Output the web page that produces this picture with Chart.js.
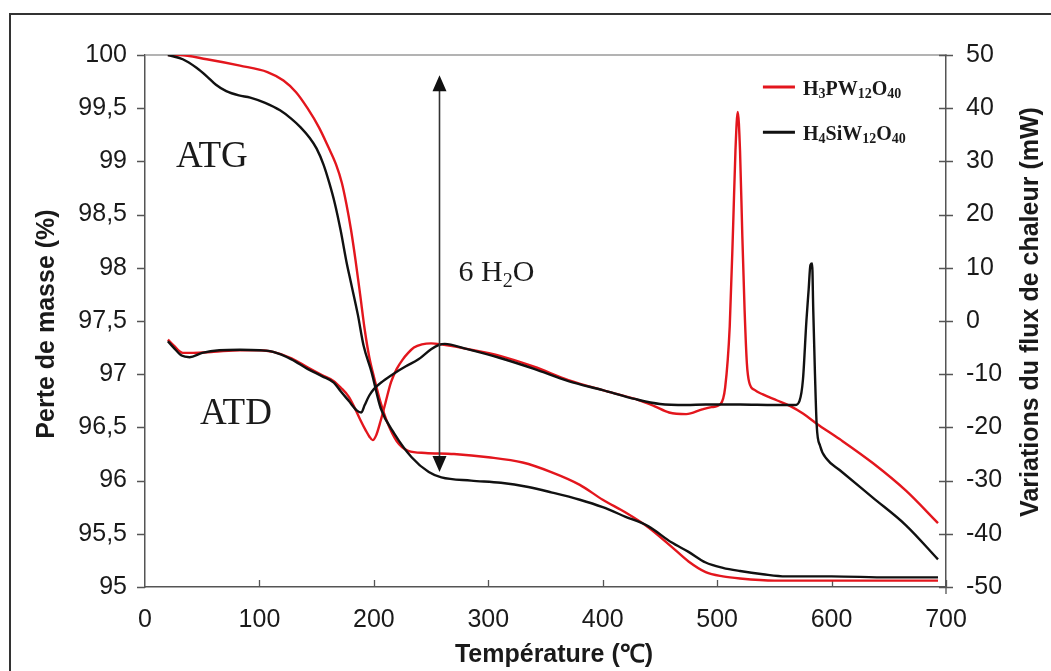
<!DOCTYPE html>
<html>
<head>
<meta charset="utf-8">
<script src="https://cdn.jsdelivr.net/npm/chart.js@4.4.1/dist/chart.umd.min.js"></script>
<style>
  html, body { margin: 0; padding: 0; background: #fff; }
  #wrap { width: 1051px; height: 671px; position: relative; }
</style>
</head>
<body>
<div id="wrap"><canvas id="tg"></canvas></div>
<script>
/* ── ATG / ATD of two heteropolyacids ── */

// ── Data ────────────────────────────────────────────────────────────────────
const tempTgPW = [20, 30, 54, 83, 107, 121, 132, 142, 152, 160, 167, 172, 176, 180, 184, 188, 192, 196, 199, 202,
  206, 212, 220, 230, 245, 270, 300, 330, 355, 380, 400, 420, 440, 460, 475, 490, 505, 520, 550, 600, 650, 693];
const tgPW = [100, 100, 99.96, 99.9, 99.84, 99.76, 99.65, 99.5, 99.32, 99.14, 98.97, 98.8, 98.6, 98.36, 98.07, 97.75, 97.42, 97.16, 97.02, 96.89,
  96.73, 96.54, 96.37, 96.28, 96.26, 96.25, 96.22, 96.17, 96.08, 95.96, 95.82, 95.7, 95.56, 95.38, 95.24, 95.14, 95.1, 95.08, 95.06, 95.06, 95.06, 95.06];

const tempTgSiW = [20, 33, 45, 54, 62, 71, 82, 92, 105, 118, 128, 136, 144, 150, 156, 161, 166, 171, 176, 180,
  186, 191, 198, 206, 218, 233, 248, 259, 285, 311, 335, 355, 380, 400, 420, 440, 460, 475, 490, 505, 520, 540, 560, 600, 650, 693];
const tgSiW = [100, 99.96, 99.88, 99.8, 99.72, 99.66, 99.62, 99.6, 99.55, 99.48, 99.4, 99.32, 99.22, 99.12, 98.97, 98.8, 98.6, 98.35, 98.06, 97.86,
  97.56, 97.27, 97.02, 96.68, 96.44, 96.22, 96.08, 96.03, 96.0, 95.98, 95.94, 95.89, 95.82, 95.75, 95.66, 95.57, 95.42, 95.33, 95.23, 95.18, 95.15, 95.12, 95.1, 95.1, 95.09, 95.09];

const tempDtaPW = [20, 25, 33, 42, 60, 83, 100, 112, 128, 142, 155, 165, 171, 178, 183, 188, 193, 196, 199, 202,
  206, 210, 215, 220, 225, 230, 235, 242, 250, 259, 280, 311, 340, 370, 400, 429, 445, 458, 473, 487,
  495, 503, 507, 511, 514, 516, 518, 520, 522, 524, 526, 528, 533, 540, 552, 564, 575, 587, 607, 636, 665, 693];
const dtaPW = [-3.5, -4.6, -6.0, -6.0, -5.8, -5.5, -5.5, -5.8, -7.0, -8.7, -10.2, -11.3, -12.5, -14.2, -16.2, -18.5, -20.6, -21.7, -22.4, -21.5,
  -18.7, -15.5, -11.5, -9.0, -7.3, -6.0, -5.0, -4.4, -4.2, -4.4, -5.2, -6.6, -8.6, -11.1, -13.0, -14.7, -16.0, -17.2, -17.5, -16.6,
  -16.2, -15.6, -12.5, -1, 18, 32, 39.3, 32, 16, 2, -8, -11.5, -13, -13.8, -14.9, -16.0, -17.4, -19.3, -22.2, -26.7, -31.9, -38.0];

const tempDtaSiW = [20, 25, 32, 39, 50, 65, 83, 100, 112, 128, 142, 155, 165, 171, 178, 185, 189, 192, 196, 200,
  208, 218, 228, 239, 250, 257, 262, 280, 311, 340, 370, 400, 429, 450, 473, 490, 520, 550, 568, 572,
  575, 578, 580, 581.5, 583, 584, 585.5, 587, 590, 596, 607, 636, 665, 693];
const dtaSiW = [-3.8, -5.0, -6.5, -6.8, -6.0, -5.5, -5.4, -5.5, -5.8, -7.2, -9.0, -10.4, -11.6, -13.2, -15.0, -16.8, -17.2, -15.8, -14.0, -12.8,
  -11.3, -9.8, -8.5, -7.2, -5.3, -4.5, -4.3, -5.2, -7.0, -9.0, -11.3, -13.0, -14.7, -15.6, -15.8, -15.7, -15.7, -15.8, -15.8, -15.0,
  -11.0, 0, 6, 10.5, 10.8, 2, -10, -19.6, -23.5, -26, -28, -33.2, -38.4, -44.8];

// axis ranges / ticks
const tempRange = [0, 700, 100];
const massRange = [95, 100, 0.5];
const fluxRange = [-50, 50, 10];

// axis titles
const titleX = "Température (℃)";
const titleY = "Perte de masse (%)";
const titleY2 = "Variations du flux de chaleur (mW)";

// text annotations, in data units (temperature, mass %)
const arrowTemp = 257, arrowTop = 99.81, arrowBottom = 96.08;
const notes = [
  { text: "ATG", t: 27, m: 98.95 },
  { text: "ATD", t: 48, m: 96.53 },
];
const waterNote = { t: 274, m: 97.88 };
// legend: [base, sub, base, sub, base, sub], anchored in (temperature, mW)
const legendItems = [
  { color: "#e3161d", parts: ["H", "3", "PW", "12", "O", "40"], flux: 44 },
  { color: "#111111", parts: ["H", "4", "SiW", "12", "O", "40"], flux: 35.5 },
];
const legendLine = [540, 568], legendText = 575;

const RED = "#e3161d";
const BLACK = "#111111";
const SANS = "'Liberation Sans', Arial, sans-serif";
const SERIF = "'Liberation Serif', 'Times New Roman', serif";

// ── Utility ─────────────────────────────────────────────────────────────────
function pts(xs, ys) {
  return xs.map((x, i) => ({ x, y: ys[i] }));
}

function comma(v) {
  return String(Math.round(v * 10) / 10).replace(".", ",");
}

function rotatedText(ctx, text, cx, cy) {
  ctx.save();
  ctx.translate(cx, cy);
  ctx.rotate(-Math.PI / 2);
  ctx.fillText(text, 0, 0);
  ctx.restore();
}

// ── Decorations: frame, top line, ticks, titles, notes, arrow, legend ──────
const decor = {
  id: "decor",
  beforeDatasetsDraw(chart) {
    const { ctx, chartArea: a, scales: { x, y, y2 } } = chart;
    ctx.save();
    // outer frame
    ctx.strokeStyle = "#333";
    ctx.lineWidth = 2;
    ctx.beginPath();
    ctx.moveTo(10, chart.height);
    ctx.lineTo(10, 14);
    ctx.lineTo(chart.width, 14);
    ctx.stroke();
    // top line of plot
    ctx.strokeStyle = "#9a9a9a";
    ctx.lineWidth = 1.5;
    ctx.beginPath();
    ctx.moveTo(a.left, a.top);
    ctx.lineTo(a.right, a.top);
    ctx.stroke();
    // ticks
    ctx.strokeStyle = "#555";
    ctx.lineWidth = 1.3;
    ctx.beginPath();
    for (let v = massRange[0]; v <= massRange[1] + 1e-9; v += massRange[2]) {
      const py = Math.round(y.getPixelForValue(v)) + 0.5;
      ctx.moveTo(a.left - 8, py);
      ctx.lineTo(a.left, py);
    }
    for (let v = fluxRange[0]; v <= fluxRange[1]; v += fluxRange[2]) {
      const py = Math.round(y2.getPixelForValue(v)) + 0.5;
      ctx.moveTo(a.right - 7, py);
      ctx.lineTo(a.right + 7, py);
    }
    for (let v = tempRange[0] + tempRange[2]; v <= tempRange[1]; v += tempRange[2]) {
      const px = Math.round(x.getPixelForValue(v)) + 0.5;
      ctx.moveTo(px, a.bottom);
      ctx.lineTo(px, a.bottom - 7);
    }
    ctx.moveTo(a.right, a.bottom);
    ctx.lineTo(a.right, a.bottom + 7);
    ctx.stroke();

    // axis titles
    ctx.fillStyle = "#1a1a1a";
    ctx.font = `bold 25px ${SANS}`;
    ctx.textAlign = "center";
    ctx.textBaseline = "middle";
    ctx.fillText(titleX, 554, 655);
    rotatedText(ctx, titleY, 47, 324);
    rotatedText(ctx, titleY2, 1031, 312);
    ctx.restore();
  },
  afterDatasetsDraw(chart) {
    const { ctx, scales: { x, y, y2 } } = chart;
    ctx.save();
    ctx.fillStyle = "#1a1a1a";
    ctx.textBaseline = "alphabetic";

    // ATG / ATD labels
    ctx.font = `37px ${SERIF}`;
    notes.forEach((n) => ctx.fillText(n.text, x.getPixelForValue(n.t), y.getPixelForValue(n.m)));

    // 6 H2O
    let wx = x.getPixelForValue(waterNote.t);
    const wy = y.getPixelForValue(waterNote.m);
    ctx.font = `30px ${SERIF}`;
    ctx.fillText("6 H", wx, wy);
    wx += ctx.measureText("6 H").width;
    ctx.font = `20px ${SERIF}`;
    ctx.fillText("2", wx, wy + 6);
    wx += ctx.measureText("2").width;
    ctx.font = `30px ${SERIF}`;
    ctx.fillText("O", wx, wy);

    // double arrow
    const ax = Math.round(x.getPixelForValue(arrowTemp)) + 0.5;
    const top = y.getPixelForValue(arrowTop);
    const bot = y.getPixelForValue(arrowBottom);
    ctx.strokeStyle = "#333";
    ctx.lineWidth = 1.6;
    ctx.beginPath();
    ctx.moveTo(ax, top + 10);
    ctx.lineTo(ax, bot - 10);
    ctx.stroke();
    ctx.fillStyle = "#111";
    ctx.beginPath();
    ctx.moveTo(ax, top);
    ctx.lineTo(ax - 7, top + 16);
    ctx.lineTo(ax + 7, top + 16);
    ctx.closePath();
    ctx.moveTo(ax, bot);
    ctx.lineTo(ax - 7, bot - 16);
    ctx.lineTo(ax + 7, bot - 16);
    ctx.closePath();
    ctx.fill();

    // legend
    legendItems.forEach((it) => {
      const ly = y2.getPixelForValue(it.flux);
      ctx.strokeStyle = it.color;
      ctx.lineWidth = 3;
      ctx.beginPath();
      ctx.moveTo(x.getPixelForValue(legendLine[0]), ly);
      ctx.lineTo(x.getPixelForValue(legendLine[1]), ly);
      ctx.stroke();
      let tx = x.getPixelForValue(legendText);
      ctx.fillStyle = "#1a1a1a";
      it.parts.forEach((p, i) => {
        const sub = i % 2 === 1;
        ctx.font = sub ? `bold 14px ${SERIF}` : `bold 20px ${SERIF}`;
        ctx.fillText(p, tx, ly + (sub ? 11 : 8));
        tx += ctx.measureText(p).width;
      });
    });
    ctx.restore();
  },
};

// ── Chart ───────────────────────────────────────────────────────────────────
Chart.defaults.font.family = SANS;
Chart.defaults.color = "#1a1a1a";

const line = (data, color, axis) => ({
  data,
  yAxisID: axis,
  borderColor: color,
  borderWidth: 2.4,
  pointRadius: 0,
  showLine: true,
  fill: false,
  cubicInterpolationMode: "monotone",
});

const axisGrid = { display: true, drawOnChartArea: false, drawTicks: false };
const axisBorder = { color: "#555", width: 1.5 };

new Chart(document.getElementById("tg"), {
  type: "scatter",
  data: {
    datasets: [
      line(pts(tempTgSiW, tgSiW), BLACK, "y"),
      line(pts(tempDtaSiW, dtaSiW), BLACK, "y2"),
      line(pts(tempTgPW, tgPW), RED, "y"),
      line(pts(tempDtaPW, dtaPW), RED, "y2"),
    ],
  },
  options: {
    responsive: true,
    maintainAspectRatio: false,
    animation: false,
    layout: { padding: { top: 55, left: 0, right: 0, bottom: 0 } },
    plugins: { legend: { display: false }, tooltip: { enabled: false } },
    scales: {
      x: {
        type: "linear",
        min: tempRange[0],
        max: tempRange[1],
        ticks: { stepSize: tempRange[2], font: { size: 25 }, padding: 18, maxRotation: 0 },
        grid: axisGrid,
        border: axisBorder,
        afterFit: (s) => { s.height = 84; },
      },
      y: {
        position: "left",
        min: massRange[0],
        max: massRange[1],
        ticks: { stepSize: massRange[2], font: { size: 25 }, padding: 18, callback: (v) => comma(v) },
        grid: axisGrid,
        border: axisBorder,
        afterFit: (s) => { s.width = 145; },
      },
      y2: {
        position: "right",
        min: fluxRange[0],
        max: fluxRange[1],
        ticks: { stepSize: fluxRange[2], font: { size: 25 }, padding: 20 },
        grid: axisGrid,
        border: axisBorder,
        afterFit: (s) => { s.width = 105; },
      },
    },
  },
  plugins: [decor],
});
</script>
</body>
</html>
